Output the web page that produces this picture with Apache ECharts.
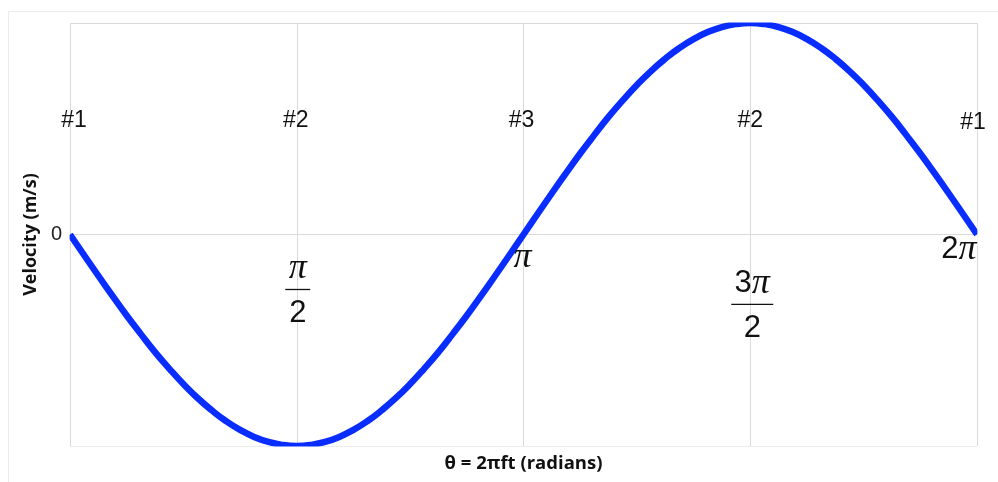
<!DOCTYPE html>
<html>
<head>
<meta charset="utf-8">
<script src="https://cdn.jsdelivr.net/npm/echarts@6/dist/echarts.min.js"></script>
<style>
html, body { margin: 0; padding: 0; background: #fff; }
#chart { width: 998px; height: 482px; }
</style>
</head>
<body>
<div id="chart"></div>
<script>
// Phase angle in multiples of π, one sample every π/32
const phase = [
  0, 0.03125, 0.0625, 0.09375, 0.125, 0.15625, 0.1875, 0.21875,
  0.25, 0.28125, 0.3125, 0.34375, 0.375, 0.40625, 0.4375, 0.46875,
  0.5, 0.53125, 0.5625, 0.59375, 0.625, 0.65625, 0.6875, 0.71875,
  0.75, 0.78125, 0.8125, 0.84375, 0.875, 0.90625, 0.9375, 0.96875,
  1, 1.03125, 1.0625, 1.09375, 1.125, 1.15625, 1.1875, 1.21875,
  1.25, 1.28125, 1.3125, 1.34375, 1.375, 1.40625, 1.4375, 1.46875,
  1.5, 1.53125, 1.5625, 1.59375, 1.625, 1.65625, 1.6875, 1.71875,
  1.75, 1.78125, 1.8125, 1.84375, 1.875, 1.90625, 1.9375, 1.96875, 2];
// Velocity (normalised to peak) at each phase sample
const velocity = [
  0, -0.098, -0.195, -0.290, -0.383, -0.471, -0.556, -0.634,
  -0.707, -0.773, -0.831, -0.882, -0.924, -0.957, -0.981, -0.995,
  -1, -0.995, -0.981, -0.957, -0.924, -0.882, -0.831, -0.773,
  -0.707, -0.634, -0.556, -0.471, -0.383, -0.290, -0.195, -0.098,
  0, 0.098, 0.195, 0.290, 0.383, 0.471, 0.556, 0.634,
  0.707, 0.773, 0.831, 0.882, 0.924, 0.957, 0.981, 0.995,
  1, 0.995, 0.981, 0.957, 0.924, 0.882, 0.831, 0.773,
  0.707, 0.634, 0.556, 0.471, 0.383, 0.290, 0.195, 0.098, 0];

// Position markers along the cycle
const stationPhase = [0, 0.5, 1, 1.5, 2];
const stationLabels = ['#1', '#2', '#3', '#2', '#1'];

// Phase tick labels (numerator / denominator; denominator empty for whole values)
const tickPhase = [0.5, 1, 1.5, 2];
const tickNumer = ['π', 'π', '3π', '2π'];
const tickDenom = ['2', '', '2', ''];

const BLUE = '#0a2dff';
const chart = echarts.init(document.getElementById('chart'), null, { renderer: 'canvas' });

chart.setOption({
  animation: false,
  backgroundColor: '#fff',
  grid: { left: 70, right: 21, top: 23, bottom: 36, containLabel: false },
  xAxis: {
    type: 'value', min: 0, max: 2, interval: 0.5,
    name: 'θ = 2πft (radians)',
    nameLocation: 'middle', nameGap: 8,
    nameTextStyle: { fontFamily: 'Open Sans', fontWeight: 'bold', fontSize: 18.5, color: '#111', verticalAlign: 'top' },
    axisLine: { show: false, onZero: false },
    axisTick: { show: false },
    axisLabel: { show: false },
    splitLine: { show: true, lineStyle: { color: '#d9d9d9', width: 1 } }
  },
  yAxis: {
    type: 'value', min: -1, max: 1, interval: 1,
    name: 'Velocity (m/s)',
    nameLocation: 'middle', nameRotate: 90, nameGap: 26,
    nameTextStyle: { fontFamily: 'Open Sans', fontWeight: 'bold', fontSize: 18, color: '#111' },
    axisLine: { show: false },
    axisTick: { show: false },
    axisLabel: {
      margin: 8, fontFamily: 'Liberation Sans', fontSize: 20, color: '#222',
      formatter: v => (v === 0 ? '0' : '')
    },
    splitLine: { show: true, lineStyle: { color: '#d9d9d9', width: 1 } }
  },
  series: [{
    type: 'line',
    data: phase.map((p, i) => [p, velocity[i]]),
    smooth: true,
    showSymbol: false,
    clip: true,
    lineStyle: { color: BLUE, width: 6.5, join: 'round', cap: 'butt' }
  }]
});

// Annotations placed through the axis scales
const px = (x, y) => chart.convertToPixel({ gridIndex: 0 }, [x, y]);
const graphics = [];

// the series clip box is padded by half the stroke; white bands trim the curve to the plot frame
const maskStyle = { fill: '#fff' };
graphics.push({ type: 'rect', z: 50, silent: true, shape: { x: 9, y: 12, width: 989, height: 10.6 }, style: maskStyle });
graphics.push({ type: 'rect', z: 50, silent: true, shape: { x: 60, y: 446.6, width: 938, height: 6 }, style: maskStyle });
graphics.push({ type: 'rect', z: 50, silent: true, shape: { x: 63, y: 222, width: 6.6, height: 24 }, style: maskStyle });
graphics.push({ type: 'rect', z: 50, silent: true, shape: { x: 977.4, y: 222, width: 21, height: 24 }, style: maskStyle });

// faint outer frame
graphics.push({ type: 'line', z: 60, shape: { x1: 8.5, y1: 11.5, x2: 998, y2: 11.5 }, style: { stroke: '#ececec', lineWidth: 1 }, silent: true });
graphics.push({ type: 'line', z: 60, shape: { x1: 8.5, y1: 11.5, x2: 8.5, y2: 482 }, style: { stroke: '#ececec', lineWidth: 1 }, silent: true });

const stationDx = [4, -1, -2, 0, -4];
const stationY = [0.54, 0.54, 0.54, 0.54, 0.53];
stationPhase.forEach((p, i) => {
  const [x, y] = px(p, stationY[i]);
  graphics.push({
    type: 'text', z: 60, x: x + stationDx[i], y: y, silent: true,
    style: { text: stationLabels[i], fontFamily: 'Liberation Sans', fontSize: 23, fill: '#111', align: 'center', verticalAlign: 'middle' }
  });
});

const piRich = {
  d: { fontFamily: 'Liberation Sans', fontSize: 31, fill: '#111' },
  p: { fontFamily: 'Liberation Serif', fontStyle: 'italic', fontSize: 36, fill: '#111' }
};
const richText = s => s.replace(/(\d*)π/, (m, d) => (d ? '{d|' + d + '}' : '') + '{p|π}');

const tickBarY = [-0.26, -0.11, -0.33, -0.07];
const tickDx = [1, -1, 2, -18];
const barHalf = [12.5, 0, 21, 0];
tickPhase.forEach((p, i) => {
  const [x0, y] = px(p, tickBarY[i]);
  const x = x0 + tickDx[i];
  if (tickDenom[i]) {
    graphics.push({ type: 'line', z: 60, silent: true, shape: { x1: x - barHalf[i], y1: y, x2: x + barHalf[i], y2: y }, style: { stroke: '#111', lineWidth: 1.3 } });
    graphics.push({ type: 'text', z: 60, x: x, y: y - 21, silent: true,
      style: { text: richText(tickNumer[i]), rich: piRich, align: 'center', verticalAlign: 'middle' } });
    graphics.push({ type: 'text', z: 60, x: x, y: y + 24, silent: true,
      style: { text: tickDenom[i], fontFamily: 'Liberation Sans', fontSize: 31, fill: '#111', align: 'center', verticalAlign: 'middle' } });
  } else {
    graphics.push({ type: 'text', z: 60, x: x, y: y, silent: true,
      style: { text: richText(tickNumer[i]), rich: piRich, align: 'center', verticalAlign: 'middle' } });
  }
});

chart.setOption({ graphic: graphics });
</script>
</body>
</html>
